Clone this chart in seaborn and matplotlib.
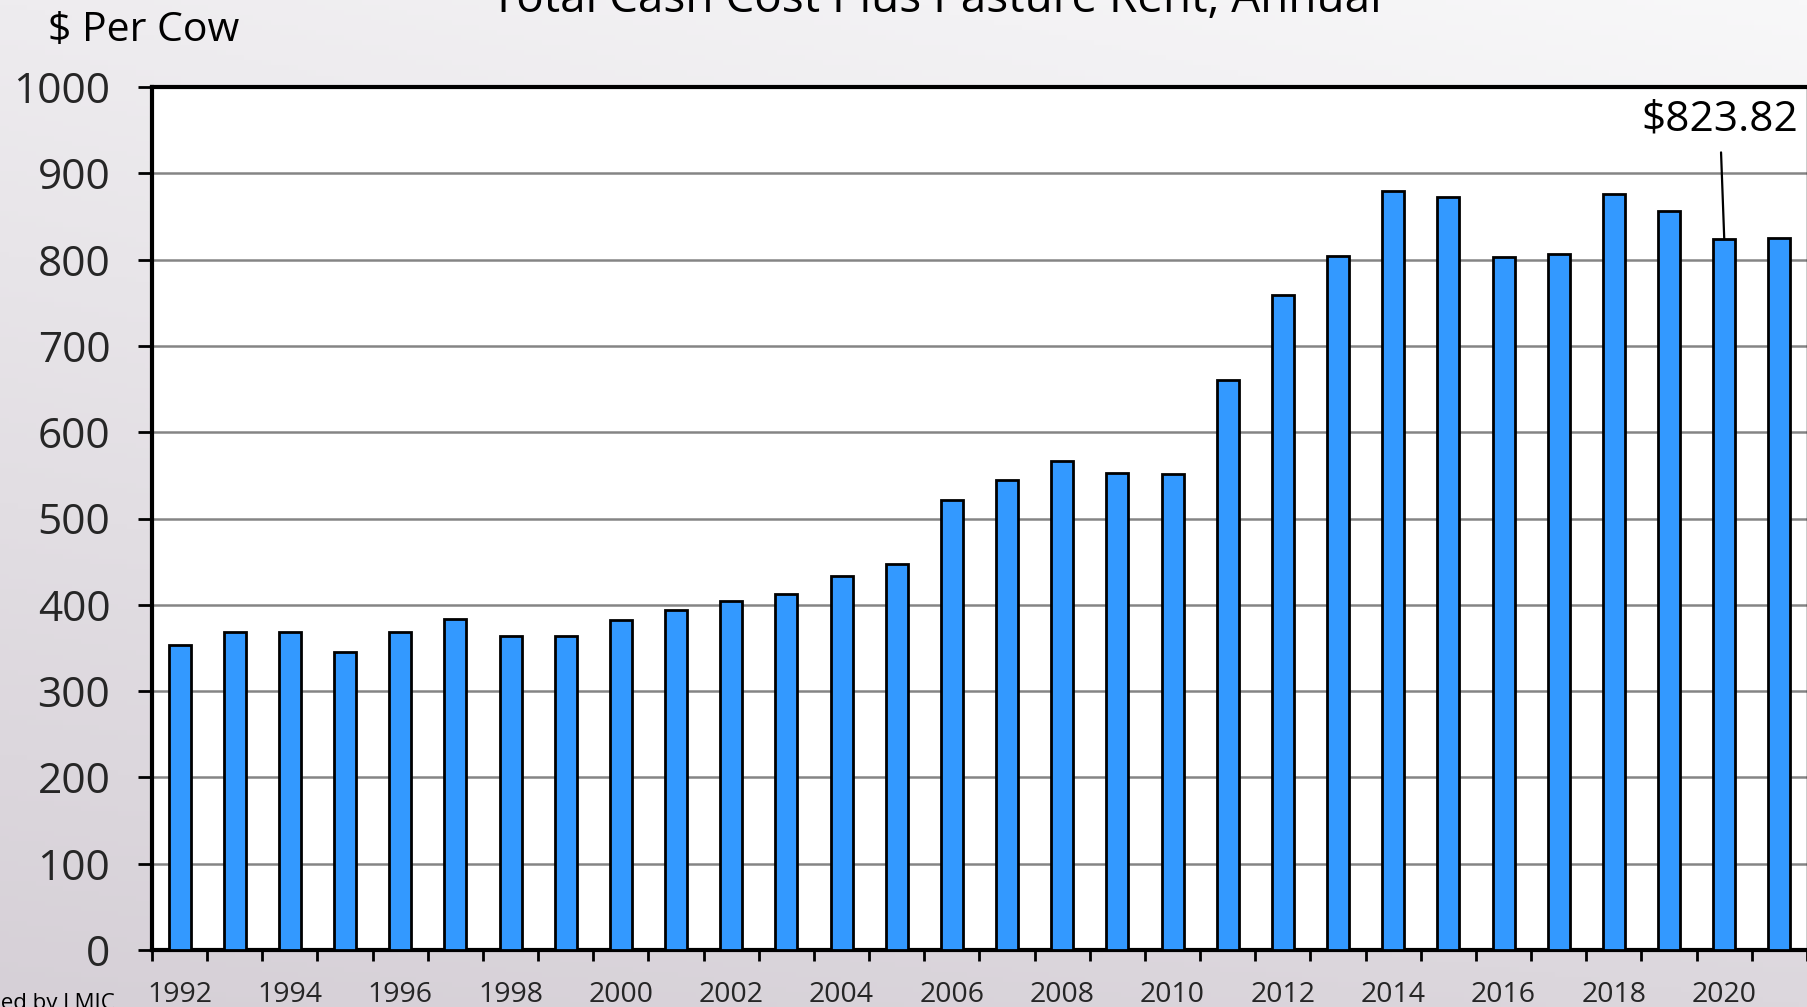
import numpy as np
import pandas as pd
import matplotlib
matplotlib.use("Agg")
import matplotlib.pyplot as plt
import seaborn as sns

# Annual total cash cost plus pasture rent, dollars per cow
years = list(range(1992, 2022))
cost_per_cow = [353, 369, 369, 345, 369, 384, 364, 364, 382, 394,
                404, 413, 433, 447, 521, 545, 567, 553, 552, 660,
                759, 804, 879, 872, 803, 806, 876, 856, 823.82, 825]
year_labels = [str(y) for y in years]
y_ticks = list(range(0, 1001, 100))
highlight_year = 2020

title_text = "Total Cash Cost Plus Pasture Rent, Annual"
unit_text = "$ Per Cow"
source_text = "Compiled by LMIC"

df = pd.DataFrame({"year": year_labels, "cost": cost_per_cow})

sns.set_theme(style="white")
plt.rcParams["font.family"] = ["Open Sans", "DejaVu Sans"]

W, H = 1808, 1007
fig = plt.figure(figsize=(W / 100, H / 100), dpi=100)

# soft slide background: lighter at the top right, greyer toward the bottom left
bg = fig.add_axes([0, 0, 1, 1], zorder=-10)
yy, xx = np.mgrid[0:1:200j, 0:1:200j]
tl = np.array([238, 236, 239]) / 255
tr = np.array([248, 248, 249]) / 255
bl = np.array([214, 208, 215]) / 255
br = np.array([220, 215, 221]) / 255
img = ((1 - yy)[..., None] * ((1 - xx)[..., None] * tl + xx[..., None] * tr)
       + yy[..., None] * ((1 - xx)[..., None] * bl + xx[..., None] * br))
bg.imshow(img, aspect="auto", extent=[0, 1, 0, 1], origin="upper")
bg.axis("off")

ax = fig.add_axes([152 / W, (H - 950) / H, (1807 - 152) / W, (950 - 87) / H])
ax.set_facecolor("white")

sns.barplot(data=df, x="year", y="cost", order=year_labels, color="#3399FF",
            saturation=1, width=0.4, edgecolor="black", linewidth=2.0,
            ax=ax, zorder=3)

ax.set_ylim(0, 1000)
ax.set_xlim(-0.5, len(years) - 0.5)
ax.set_yticks(y_ticks)
ax.set_yticklabels([str(v) for v in y_ticks], fontsize=30.5)
ax.yaxis.grid(True, color="#858585", linewidth=1.8, zorder=0)
ax.set_axisbelow(True)

# tick marks sit on the boundaries between years; labels under even years
ax.set_xticks(np.arange(-0.5, len(years), 1.0))
ax.set_xticklabels([])
even_pos = [i for i, y in enumerate(years) if y % 2 == 0]
ax.set_xticks(even_pos, minor=True)
ax.set_xticklabels([year_labels[i] for i in even_pos], minor=True, fontsize=20.5)
ax.tick_params(axis="x", which="major", direction="out", length=8, width=2,
               color="black", bottom=True)
ax.tick_params(axis="x", which="minor", length=0, pad=22, bottom=True)
ax.tick_params(axis="y", direction="out", length=10, width=2, color="black",
               left=True, pad=20)
ax.set_xlabel("")
ax.set_ylabel("")

for side in ["left", "top", "bottom"]:
    ax.spines[side].set_color("black")
    ax.spines[side].set_linewidth(3)
ax.spines["right"].set_color("black")
ax.spines["right"].set_linewidth(1)

# value callout on the 2020 bar
hi = years.index(highlight_year)
hi_val = cost_per_cow[hi]
ax.annotate(r"\$" + f"{hi_val:,.2f}", xy=(hi, hi_val), xytext=(hi - 0.08, 962),
            ha="center", va="center", fontsize=30.5, color="black",
            arrowprops=dict(arrowstyle="-", color="black", lw=1.6,
                            shrinkA=6, shrinkB=0),
            annotation_clip=False, zorder=5)

fig.text(48 / W, 1 - 31 / H, unit_text, fontsize=29.5, ha="left", va="center",
         color="black")
fig.text(936 / W, 1 - 12 / H, title_text, fontsize=33, ha="center",
         va="baseline", color="black")
fig.text(115 / W, 1 - 993 / H, source_text, fontsize=16, ha="right", va="top",
         color="black")

fig.savefig("out.png", dpi=100)
